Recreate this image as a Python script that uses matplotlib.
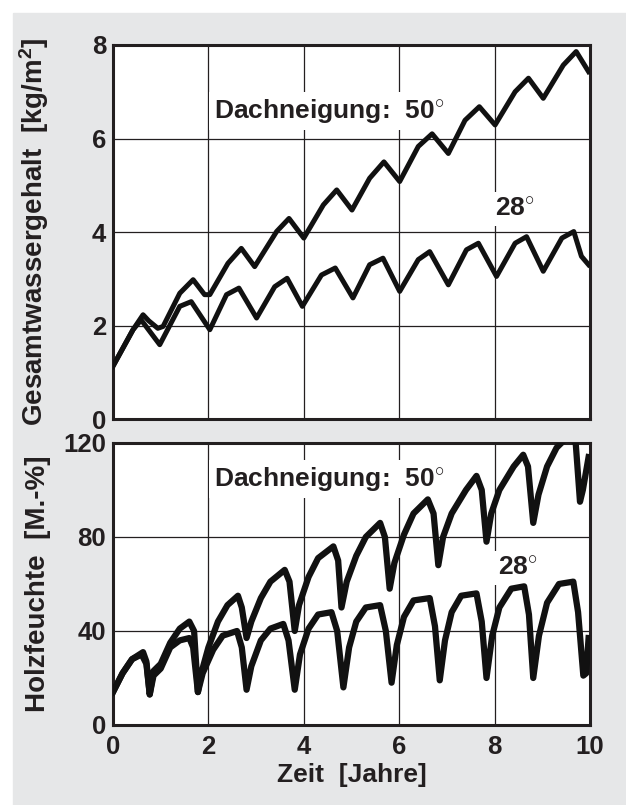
"""Gesamtwassergehalt und Holzfeuchte eines Daches über 10 Jahre,
Dachneigung 50° gegen 28°."""
import matplotlib.pyplot as plt
from matplotlib.patches import Rectangle

plt.rcParams["font.family"] = ["Liberation Sans", "DejaVu Sans"]
plt.rcParams["font.weight"] = "bold"
plt.rcParams["axes.labelweight"] = "bold"
plt.rcParams["mathtext.fontset"] = "custom"
plt.rcParams["mathtext.rm"] = "Liberation Sans:bold"
plt.rcParams["mathtext.bf"] = "Liberation Sans:bold"
plt.rcParams["mathtext.it"] = "Liberation Sans:bold"

# --- Gesamtwassergehalt [kg/m2] ---
t_w50 = [0.0, 0.42, 0.63, 0.75, 0.94, 1.05, 1.4, 1.68, 1.92, 2.03, 2.41, 2.69,
         2.97, 3.43, 3.69, 4.0, 4.41, 4.69, 5.01, 5.38, 5.68, 6.01, 6.4, 6.69,
         7.03, 7.38, 7.68, 8.01, 8.43, 8.71, 9.02, 9.44, 9.71, 9.97]
w50 = [1.13, 1.91, 2.23, 2.1, 1.94, 1.98, 2.69, 2.98, 2.66, 2.66, 3.33, 3.65,
       3.26, 4.01, 4.29, 3.87, 4.58, 4.90, 4.47, 5.15, 5.50, 5.08, 5.83, 6.10,
       5.68, 6.39, 6.68, 6.29, 7.0, 7.29, 6.86, 7.57, 7.86, 7.43]

t_w28 = [0.0, 0.42, 0.59, 0.98, 1.4, 1.64, 2.03, 2.38, 2.64, 3.01, 3.39, 3.65,
         3.97, 4.37, 4.66, 5.03, 5.38, 5.66, 6.01, 6.4, 6.64, 7.03, 7.41, 7.66,
         8.04, 8.43, 8.67, 9.02, 9.41, 9.66, 9.82, 9.97]
w28 = [1.13, 1.91, 2.12, 1.59, 2.41, 2.51, 1.91, 2.66, 2.80, 2.16, 2.83, 3.01,
       2.41, 3.08, 3.23, 2.59, 3.30, 3.44, 2.73, 3.41, 3.58, 2.87, 3.62, 3.76,
       3.05, 3.76, 3.90, 3.16, 3.87, 4.01, 3.48, 3.30]

# --- Holzfeuchte [M.-%] ---
t_h50 = [0.0, 0.2, 0.4, 0.63, 0.7, 0.77, 0.85, 1.0, 1.2, 1.4, 1.6, 1.7, 1.78,
         1.85, 2.0, 2.2, 2.4, 2.62, 2.7, 2.8, 2.9, 3.1, 3.3, 3.6, 3.7, 3.81,
         3.9, 4.1, 4.3, 4.62, 4.72, 4.79, 4.9, 5.1, 5.3, 5.6, 5.7, 5.8, 5.9,
         6.1, 6.3, 6.6, 6.72, 6.82, 6.92, 7.1, 7.4, 7.62, 7.73, 7.83, 7.93,
         8.1, 8.4, 8.6, 8.7, 8.81, 8.92, 9.1, 9.3, 9.55, 9.7, 9.79, 9.85, 9.97]
h50 = [14, 22, 28, 31, 27, 13, 23, 26, 35, 41, 44, 40, 14,
       22, 33, 44, 51, 55, 50, 37, 44, 54, 61, 66, 61, 40,
       51, 63, 71, 76, 70, 50, 61, 72, 80, 86, 80, 58, 69,
       81, 90, 96, 90, 68, 80, 90, 100, 106, 100, 78, 90,
       100, 110, 115, 110, 86, 98, 110, 118, 123, 120, 95, 100, 114]

t_h28 = [0.0, 0.2, 0.4, 0.6, 0.7, 0.77, 0.85, 1.0, 1.2, 1.4, 1.6, 1.68, 1.78,
         1.88, 2.1, 2.3, 2.6, 2.7, 2.8, 2.9, 3.1, 3.3, 3.57, 3.68, 3.81,
         3.92, 4.1, 4.3, 4.58, 4.7, 4.83, 4.95, 5.1, 5.3, 5.6, 5.72, 5.84,
         5.95, 6.1, 6.3, 6.64, 6.75, 6.85, 6.96, 7.1, 7.3, 7.62, 7.73, 7.83,
         7.95, 8.1, 8.35, 8.62, 8.72, 8.81, 8.93, 9.1, 9.35, 9.65, 9.75, 9.86,
         9.92, 9.97]
h28 = [14, 22, 28, 30, 26, 13, 21, 24, 33, 36, 37, 33, 14,
       22, 32, 38, 40, 33, 15, 25, 36, 41, 43, 36, 15,
       30, 41, 47, 48, 40, 16, 33, 44, 50, 51, 40, 18,
       34, 46, 53, 54, 42, 19, 36, 48, 55, 56, 44, 20,
       38, 50, 58, 59, 47, 20, 38, 52, 60, 61, 48, 21,
       22, 37]

x_ticks = [0, 2, 4, 6, 8, 10]
ink = "#231f20"
gray = "#e6e7e8"
fs = 19

fig = plt.figure(figsize=(6.26, 8.05), dpi=100)
fig.add_artist(Rectangle((13 / 626, 0), 1, 1 - 13 / 805,
                         transform=fig.transFigure, color=gray, zorder=-5))

ax1 = fig.add_axes([0.1805, 0.4795, 0.762, 0.4646])
ax2 = fig.add_axes([0.1805, 0.0994, 0.762, 0.3503])

for ax in (ax1, ax2):
    ax.set_facecolor("white")
    ax.set_xlim(0, 10)
    ax.set_xticks(x_ticks)
    ax.grid(color=ink, linewidth=0.9)
    ax.set_axisbelow(True)
    ax.tick_params(length=0, labelsize=18.5, colors=ink, pad=5)
    for s in ax.spines.values():
        s.set_linewidth(2.2)
        s.set_color(ink)

# top: total water content
ax1.plot(t_w50, w50, color="#111111", lw=3.6, solid_joinstyle="round", zorder=4)
ax1.plot(t_w28, w28, color="#111111", lw=3.6, solid_joinstyle="round", zorder=4)
ax1.set_ylim(0, 8)
ax1.set_yticks([0, 2, 4, 6, 8])
ax1.tick_params(labelbottom=False)
ax1.set_ylabel("Gesamtwassergehalt  [kg/m$^2$]", fontsize=20, color=ink)
ax1.yaxis.set_label_coords(-0.13, 0.5)

box = dict(facecolor="white", edgecolor="none", pad=3.5)
ax1.text(2.12, 6.59, "Dachneigung:  50$^{\\circ}$", fontsize=fs, color=ink,
         va="center", ha="left", bbox=box, zorder=3)
ax1.text(8.0, 4.49, "28$^{\\circ}$", fontsize=fs, color=ink,
         va="center", ha="left", bbox=box, zorder=3)

# bottom: wood moisture
ax2.plot(t_h50, h50, color="#111111", lw=4.5, solid_joinstyle="round", zorder=4)
ax2.plot(t_h28, h28, color="#111111", lw=4.5, solid_joinstyle="round", zorder=4)
ax2.set_ylim(0, 120)
ax2.set_yticks([0, 40, 80, 120])
ax2.tick_params(axis="x", pad=7)
ax2.set_xlabel("Zeit  [Jahre]", fontsize=fs, color=ink, labelpad=3)
ax2.set_ylabel("Holzfeuchte  [M.-%]", fontsize=20, color=ink)
ax2.yaxis.set_label_coords(-0.13, 0.5)

ax2.text(2.12, 104.7, "Dachneigung:  50$^{\\circ}$", fontsize=fs, color=ink,
         va="center", ha="left", bbox=box, zorder=3)
ax2.text(8.08, 66.8, "28$^{\\circ}$", fontsize=fs, color=ink,
         va="center", ha="left", bbox=box, zorder=3)

fig.savefig("out.png", dpi=100)
